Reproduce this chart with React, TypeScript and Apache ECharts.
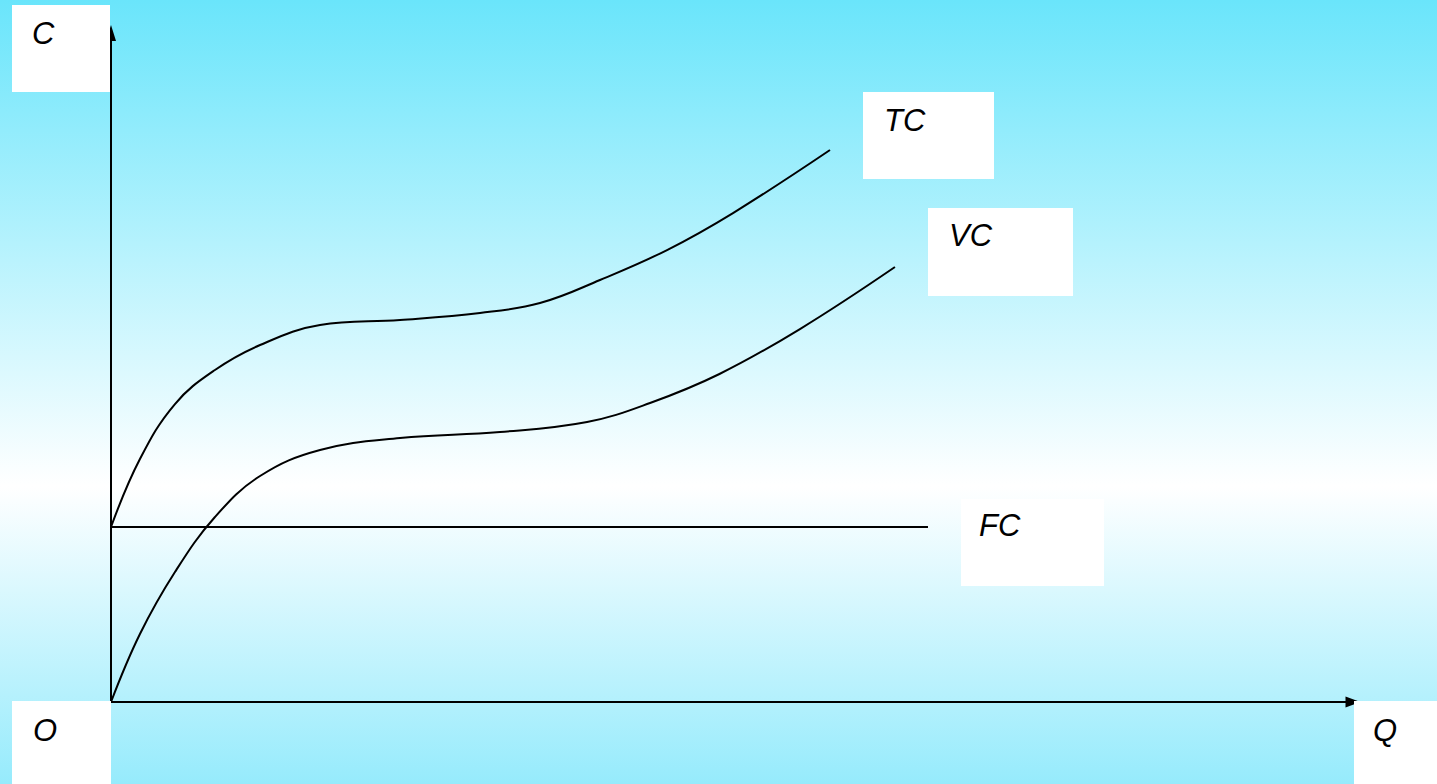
import React, { useEffect, useRef } from "react";
import * as echarts from "echarts";

// Quantity (x) and cost (y) on a 0–100 scale
const tcQ = [0, 2.33, 5.15, 8.37, 12.0, 16.83, 23.27, 29.71, 34.54, 39.37, 44.77, 50.08, 57.89];
const tcC = [26.16, 36.32, 44.54, 49.63, 53.36, 56.35, 57.1, 58.15, 59.64, 63.08, 67.56, 73.09, 82.51];

const vcQ = [0, 2.33, 5.15, 8.37, 12.0, 16.83, 23.27, 31.32, 38.33, 43.4, 48.99, 55.47, 63.12];
const vcC = [0, 10.16, 19.43, 27.65, 33.78, 37.67, 39.46, 40.36, 41.85, 44.69, 49.03, 55.75, 65.02];

const fcQ = [0, 65.78];
const fcC = [26.16, 26.16];

const labels = ["C", "TC", "VC", "FC", "O", "Q"];

const zip = (a: number[], b: number[]) => a.map((v, i) => [v, b[i]]);

export default function App() {
  const ref = useRef<HTMLDivElement>(null);
  useEffect(() => {
    if (!ref.current) return;
    const chart = echarts.init(ref.current, undefined, { renderer: "svg" });
    const boxes = [
      { x: 12, y: 5, w: 98, h: 87, tx: 32, ty: 33 },
      { x: 863, y: 92, w: 131, h: 87, tx: 884, ty: 120 },
      { x: 928, y: 208, w: 145, h: 88, tx: 949, ty: 235 },
      { x: 961, y: 499, w: 143, h: 87, tx: 979, ty: 525 },
      { x: 12, y: 701, w: 99, h: 83, tx: 33, ty: 730 },
      { x: 1354, y: 701, w: 83, h: 83, tx: 1373, ty: 730 },
    ];
    const graphic: any[] = [];
    boxes.forEach((b, i) => {
      graphic.push({
        type: "rect",
        z: 10,
        shape: { x: b.x, y: b.y, width: b.w, height: b.h },
        style: { fill: "#ffffff" },
      });
      graphic.push({
        type: "text",
        z: 11,
        x: b.tx,
        y: b.ty,
        style: {
          text: labels[i],
          fill: "#000000",
          fontSize: 31,
          fontStyle: "italic",
          fontFamily: "'Liberation Sans', Arial, sans-serif",
          align: "left",
          verticalAlign: "middle",
        },
      });
    });
    const lineSeries = (name: string, data: number[][], smooth: number | boolean) => ({
      name,
      type: "line",
      data,
      smooth,
      symbol: "none",
      lineStyle: { color: "#000000", width: 2 },
      z: 3,
    });
    const hiddenAxis = {
      type: "value",
      min: 0,
      max: 100,
      axisLabel: { show: false },
      axisTick: { show: false },
      splitLine: { show: false },
    };
    chart.setOption({
      animation: false,
      backgroundColor: {
        type: "linear",
        x: 0,
        y: 0,
        x2: 0,
        y2: 1,
        colorStops: [
          { offset: 0, color: "#6ae5fb" },
          { offset: 0.62, color: "#ffffff" },
          { offset: 1, color: "#96ebfc" },
        ],
      },
      grid: { left: 111, right: 84, top: 33, bottom: 82 },
      xAxis: {
        ...hiddenAxis,
        axisLine: {
          show: true,
          symbol: ["none", "triangle"],
          symbolSize: [11, 15],
          lineStyle: { color: "#000000", width: 2 },
        },
      },
      yAxis: {
        ...hiddenAxis,
        axisLine: {
          show: true,
          symbol: ["none", "triangle"],
          symbolSize: [10, 16],
          lineStyle: { color: "#000000", width: 2 },
        },
      },
      series: [
        lineSeries("TC", zip(tcQ, tcC), 0.4),
        lineSeries("VC", zip(vcQ, vcC), 0.4),
        lineSeries("FC", zip(fcQ, fcC), false),
      ],
      graphic,
    });
    return () => chart.dispose();
  }, []);
  return (
    <div
      ref={ref}
      style={{ position: "fixed", left: 0, top: 0, width: "1437px", height: "784px" }}
    />
  );
}
